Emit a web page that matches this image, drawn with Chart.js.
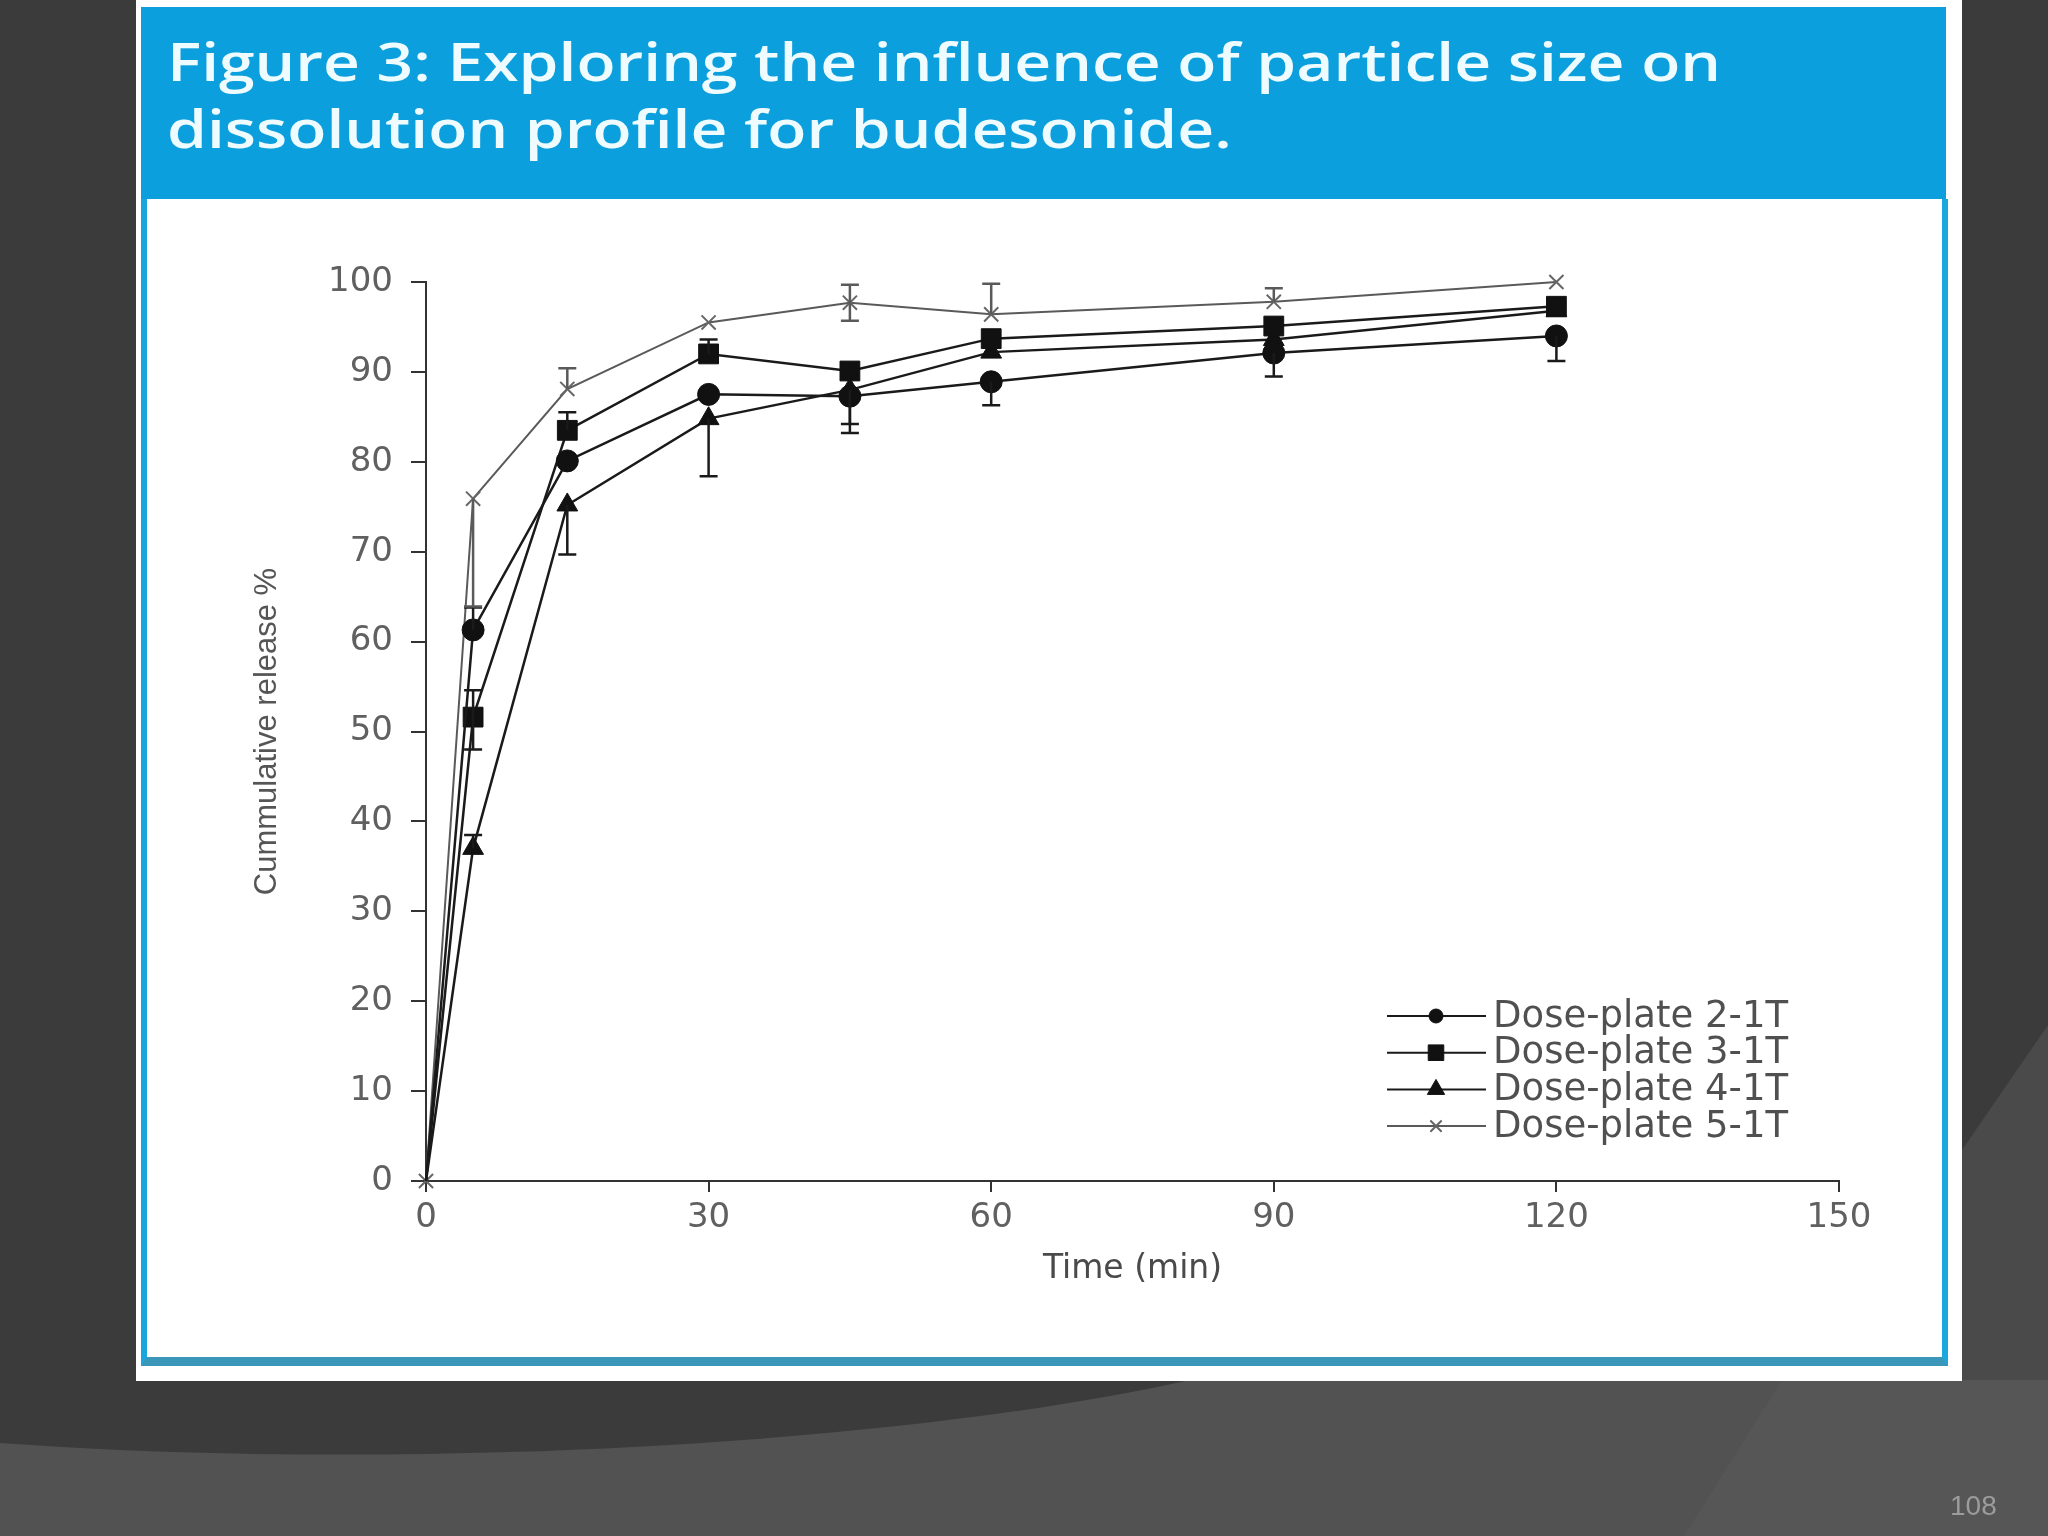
<!DOCTYPE html>
<html>
<head>
<meta charset="utf-8">
<title>Figure 3 - budesonide dissolution</title>
<script src="https://cdn.jsdelivr.net/npm/chart.js@4.4.0/dist/chart.umd.min.js"></script>
<style>
  html, body { margin: 0; padding: 0; background: #3c3c3c; overflow: hidden; }
  #slide { position: relative; width: 2048px; height: 1536px; }
  #bg { position: absolute; left: 0; top: 0; }
  #box { position: absolute; left: 136px; top: 0; width: 1826px; height: 1381px; background: #fff; }
  #header { position: absolute; left: 141px; top: 7px; width: 1805px; height: 192px; background: #0b9fdd; }
  #header div { position: absolute; left: 26px; top: 20px; font: 600 53px/67px "Open Sans", sans-serif; color: #eefbff;
                white-space: nowrap; transform: scaleX(1.21); transform-origin: 0 0; }
  #frame { position: absolute; left: 141px; top: 199px; width: 1795px; height: 1158px;
           border-left: 6px solid #1aa7de; border-right: 6px solid #1aa7de; border-bottom: 9px solid #3a97ba; }
  #chart { position: absolute; left: 0; top: 0; }
  #pagenum { position: absolute; left: 1950px; top: 1490px; font: 28px "Liberation Sans", sans-serif; color: #9c9c9c; }
</style>
</head>
<body>
<div id="slide">
  <svg id="bg" width="2048" height="1536">
    <rect width="2048" height="1536" fill="#3b3b3b"/>
    <path d="M1962,1150 L2048,1025 L2048,1536 L1962,1536 Z" fill="#4a4a4a"/>
    <path d="M0,1443 C400,1472 900,1445 1190,1380 L2048,1380 L2048,1536 L0,1536 Z" fill="#525252"/>
    <path d="M1782,1380 L2048,1380 L2048,1536 L1684,1536 Z" fill="#565656"/>
  </svg>
  <div id="box"></div>
  <div id="header"><div>Figure 3: Exploring the influence of particle size on<br>dissolution profile for budesonide.</div></div>
  <div id="frame"></div>
  <canvas id="chart" width="2048" height="1536"></canvas>
  <div id="pagenum">108</div>
</div>

<script>
// sampling times (min)
const times = [0, 5, 15, 30, 45, 60, 90, 120];

// cumulative release % for each dose-plate
const plate2 = [0, 61.3, 80.1, 87.5, 87.3, 88.9, 92.1, 94.0];
const plate3 = [0, 51.6, 83.5, 92.0, 90.1, 93.7, 95.1, 97.3];
const plate4 = [0, 37.0, 75.2, 84.8, 88.0, 92.2, 93.6, 96.8];
const plate5 = [0, 75.9, 88.1, 95.5, 97.7, 96.4, 97.8, 100.0];

// error bars as drawn in the figure (below / above the mean)
const plate2Low  = [0, 0, 0, 0, 3.1, 2.6, 2.6, 2.8];
const plate2High = [0, 2.5, 0, 0, 0, 0, 0, 0];
const plate3Low  = [0, 3.6, 0, 0, 0, 0, 0, 0];
const plate3High = [0, 3.0, 2.0, 1.6, 0, 0, 0, 0];
const plate4Low  = [0, 0, 5.5, 6.4, 4.8, 0, 0, 0];
const plate4High = [0, 1.5, 0, 0, 0, 0, 0, 0];
const plate5Low  = [0, 12.0, 0, 0, 2.0, 0, 0, 0];
const plate5High = [0, 0, 2.3, 0, 2.0, 3.4, 1.5, 0];

const seriesNames = ['Dose-plate 2-1T', 'Dose-plate 3-1T', 'Dose-plate 4-1T', 'Dose-plate 5-1T'];

// axis ticks
const xTicks = [0, 30, 60, 90, 120, 150];
const yTicks = [0, 10, 20, 30, 40, 50, 60, 70, 80, 90, 100];

function points(values) {
    return times.map((t, i) => ({ x: t, y: values[i] }));
}

// hide the marker at t = 0 for the filled symbols
function radiusFrom(r) {
    return ctx => ctx.dataIndex === 0 ? 0 : r;
}

const tickFont = { family: '"DejaVu Sans", sans-serif', size: 34 };

// vertical error bars with caps, drawn through the chart scales
const errorBarPlugin = {
    id: 'errorBars',
    afterDatasetsDraw(chart) {
        const ctx = chart.ctx;
        const xs = chart.scales.x, ys = chart.scales.y;
        chart.data.datasets.forEach(ds => {
            ctx.save();
            ctx.strokeStyle = ds.borderColor;
            ctx.lineWidth = 2.5;
            ds.data.forEach((p, i) => {
                const x = xs.getPixelForValue(p.x);
                [[ds.errLow[i], -1], [ds.errHigh[i], 1]].forEach(([e, dir]) => {
                    if (!e) return;
                    const y0 = ys.getPixelForValue(p.y);
                    const y1 = ys.getPixelForValue(p.y + dir * e);
                    ctx.beginPath();
                    ctx.moveTo(x, y0);
                    ctx.lineTo(x, y1);
                    ctx.moveTo(x - 9, y1);
                    ctx.lineTo(x + 9, y1);
                    ctx.stroke();
                });
            });
            ctx.restore();
        });
    }
};

// legend with line - marker - line samples, placed inside the plot
const sampleLegendPlugin = {
    id: 'sampleLegend',
    afterDraw(chart) {
        const ctx = chart.ctx;
        const area = chart.chartArea;
        const x0 = area.right - 452;
        const y0 = area.bottom - 165;
        chart.data.datasets.forEach((ds, i) => {
            const y = y0 + i * 36.7;
            ctx.save();
            ctx.strokeStyle = ds.borderColor;
            ctx.lineWidth = 2;
            ctx.beginPath();
            ctx.moveTo(x0, y);
            ctx.lineTo(x0 + 99, y);
            ctx.stroke();
            ctx.fillStyle = ds.pointBackgroundColor;
            ctx.strokeStyle = ds.pointBorderColor;
            ctx.lineWidth = ds.pointBorderWidth;
            Chart.helpers.drawPoint(ctx, {
                pointStyle: ds.pointStyle,
                radius: ds.legendRadius,
                rotation: 0,
                borderWidth: ds.pointBorderWidth
            }, x0 + 49, y);
            ctx.fillStyle = '#505050';
            ctx.font = '37px "DejaVu Sans", sans-serif';
            ctx.textBaseline = 'middle';
            ctx.textAlign = 'left';
            ctx.fillText(ds.label, x0 + 106, y + 1);
            ctx.restore();
        });
    }
};

const chart = new Chart(document.getElementById('chart').getContext('2d'), {
    type: 'line',
    data: {
        datasets: [{
            label: seriesNames[0],
            data: points(plate2),
            errLow: plate2Low, errHigh: plate2High,
            borderColor: '#1a1a1a', borderWidth: 2.5,
            pointStyle: 'circle', pointRadius: radiusFrom(11), legendRadius: 7,
            pointBackgroundColor: '#111', pointBorderColor: '#111', pointBorderWidth: 1
        }, {
            label: seriesNames[1],
            data: points(plate3),
            errLow: plate3Low, errHigh: plate3High,
            borderColor: '#1a1a1a', borderWidth: 2.5,
            pointStyle: 'rect', pointRadius: radiusFrom(14), legendRadius: 11,
            pointBackgroundColor: '#111', pointBorderColor: '#111', pointBorderWidth: 1
        }, {
            label: seriesNames[2],
            data: points(plate4),
            errLow: plate4Low, errHigh: plate4High,
            borderColor: '#1a1a1a', borderWidth: 2.5,
            pointStyle: 'triangle', pointRadius: radiusFrom(12), legendRadius: 10,
            pointBackgroundColor: '#111', pointBorderColor: '#111', pointBorderWidth: 1
        }, {
            label: seriesNames[3],
            data: points(plate5),
            errLow: plate5Low, errHigh: plate5High,
            borderColor: '#5a5a5a', borderWidth: 2,
            pointStyle: 'crossRot', pointRadius: 10, legendRadius: 8,
            pointBackgroundColor: '#666', pointBorderColor: '#666', pointBorderWidth: 2
        }]
    },
    options: {
        responsive: false,
        animation: false,
        devicePixelRatio: 1,
        layout: { padding: { left: 243, right: 209, top: 282, bottom: 243 } },
        datasets: { line: { tension: 0, clip: false, fill: false } },
        plugins: {
            legend: { display: false },
            tooltip: { enabled: false }
        },
        scales: {
            x: {
                type: 'linear',
                min: 0,
                max: 150,
                afterBuildTicks: axis => { axis.ticks = xTicks.map(v => ({ value: v })); },
                afterFit: scale => { scale.height = 112; },
                border: { color: '#333', width: 2 },
                grid: { drawOnChartArea: false, tickLength: 11, color: '#333', lineWidth: 2 },
                ticks: { color: '#606060', font: tickFont, padding: 6, maxRotation: 0 },
                title: {
                    display: true,
                    text: 'Time (min)',
                    color: '#4a4a4a',
                    font: { family: '"DejaVu Sans", sans-serif', size: 33 },
                    padding: { top: 0, bottom: 4 }
                }
            },
            y: {
                min: 0,
                max: 100,
                afterBuildTicks: axis => { axis.ticks = yTicks.map(v => ({ value: v })); },
                afterFit: scale => { scale.width = 183; },
                border: { color: '#333', width: 2 },
                grid: { drawOnChartArea: false, tickLength: 15, color: '#333', lineWidth: 2 },
                ticks: { color: '#606060', font: tickFont, padding: 18 },
                title: {
                    display: true,
                    text: 'Cummulative release %',
                    color: '#555',
                    font: { family: '"Liberation Sans", sans-serif', size: 31 },
                    padding: { top: 6, bottom: 0 }
                }
            }
        }
    },
    plugins: [errorBarPlugin, sampleLegendPlugin]
});
</script>
</body>
</html>
